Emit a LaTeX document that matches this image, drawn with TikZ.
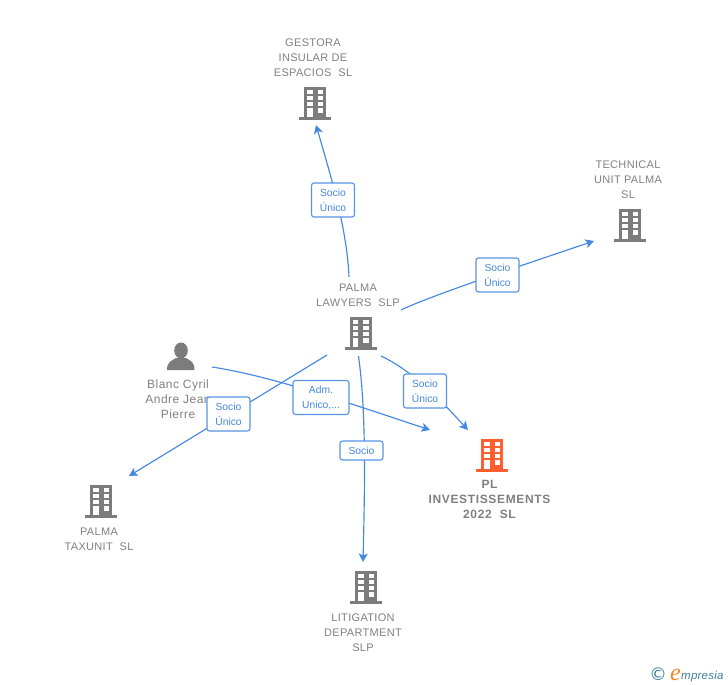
\documentclass[tikz,border=0pt]{standalone}
\usepackage{fontspec}
\setmainfont{Liberation Sans}
\newfontfamily\dvfont{DejaVu Sans}
\newfontfamily\lsfont{Liberation Serif}
\usetikzlibrary{arrows.meta}
\definecolor{lnk}{HTML}{4488E2}
\definecolor{gry}{HTML}{7C7C7C}
\definecolor{txtg}{HTML}{808080}
\definecolor{org}{HTML}{FF5F30}
\definecolor{logoorg}{HTML}{F08A1E}
\definecolor{teal}{HTML}{3F7F95}
\tikzset{
 x=1pt,y=-1pt,
 conn/.style={draw=lnk,line width=1.15pt},
 arr/.style={conn,-{Stealth[length=8.5pt,width=9pt,inset=2pt]}},
 lab/.style={draw=lnk!90!white,line width=1.1pt,fill=white,rounded corners=2.5pt,text=lnk,font=\fontsize{10.3}{15}\selectfont,align=center,inner sep=0pt,minimum width=#1},
 lab/.default=43pt,
 captxt/.style={text=txtg,font=\fontsize{11}{15}\selectfont\addfontfeature{LetterSpace=3},align=center,inner sep=0pt},
 pics/bld/.style={code={
  \fill[#1] (-11.2,-16.5) rectangle (11.2,14);
  \fill[#1] (-16,14) rectangle (16,16.7);
  \foreach \yy in {-13.5,-7.2,-1}{
   \fill[white] (-8,\yy) rectangle (-2.3,\yy+4.4);
   \fill[white] (2.5,\yy) rectangle (8.1,\yy+4.4);}
  \fill[white] (-8,5.2) rectangle (-2.3,14);
  \fill[white] (2.5,5.2) rectangle (8.1,9.8);
 }}
}
\begin{document}
\begin{tikzpicture}
\useasboundingbox (0,0) rectangle (728,685);
% icons
\pic at (315,103) {bld=gry};
\pic at (630,225) {bld=gry};
\pic at (360.7,333) {bld=gry};
\pic at (492,455) {bld=org};
\pic at (101,501) {bld=gry};
\pic at (366,587) {bld=gry};
\fill[gry] (181,350.5) ellipse (6.8 and 8);
\fill[gry] (167,370) .. controls (167,362) and (171,361) .. (176,358) -- (186,358) .. controls (191,361) and (194.5,362) .. (194.5,370) -- cycle;
% captions
\node[captxt] (gestora) at (313,57.3) {GESTORA\\INSULAR DE\\ESPACIOS~ SL};
\node[captxt] (technical) at (628,179.5) {TECHNICAL\\UNIT PALMA\\SL};
\node[captxt] (palma) at (358,295) {PALMA\\LAWYERS~ SLP};
\node[captxt,font=\fontsize{12}{15}\selectfont\addfontfeature{LetterSpace=4}] (blanc) at (178,399) {Blanc Cyril\\Andre Jean\\Pierre};
\node[captxt,font=\fontsize{12}{15}\selectfont\bfseries\addfontfeature{LetterSpace=5.5}] (pl) at (489.5,499.5) {PL\\INVESTISSEMENTS\\2022~ SL};
\node[captxt] (taxunit) at (99,539) {PALMA\\TAXUNIT~ SL};
\node[captxt] (litigation) at (363,632.5) {LITIGATION\\DEPARTMENT\\SLP};
% connector ends
\coordinate (a1) at (349,277); \coordinate (a2) at (316,125);
\coordinate (b1) at (401,310); \coordinate (b2) at (594,241);
\coordinate (c1) at (381,356); \coordinate (c2) at (468,430);
\coordinate (d1) at (327,355); \coordinate (d2) at (129,476);
\coordinate (e1) at (212,367); \coordinate (e2) at (430,430);
\coordinate (f1) at (358.5,356); \coordinate (f2) at (363,562);
% connectors, running behind their labels
\draw[arr] (a1) .. controls (347,230) and (332,180) .. (a2);
\draw[arr] (b1) .. controls (430,296) and (520,266) .. (b2);
\draw[arr] (c1) .. controls (415,372) and (445,405) .. (c2);
\draw[arr] (d1) -- (d2);
\draw[arr] (e1) .. controls (270,376) and (340,400) .. (e2);
\draw[arr] (f1) .. controls (366,410) and (365,480) .. (f2);
% labels
\node[lab,minimum height=34pt] (la) at (333,200) {Socio\\Único};
\node[lab,minimum height=34pt] (lb) at (497.5,275) {Socio\\Único};
\node[lab,minimum height=34pt] (lc) at (425,391) {Socio\\Único};
\node[lab,minimum height=34pt] (ld) at (228.5,414) {Socio\\Único};
\node[lab=56pt,minimum height=34pt] (le) at (321,397.5) {Adm.\\Unico,...};
\node[lab=43pt,minimum height=19pt] (lf) at (361.5,450.5) {Socio};
% logo
\node[inner sep=0pt,text=teal,font=\fontsize{17.5}{15}\dvfont] (copy) at (658,674) {©};
\node[inner sep=0pt,anchor=base west,text=logoorg,font=\fontsize{24}{17}\lsfont\itshape] (elogo) at (670,680) {e};
\node[inner sep=0pt,anchor=base west,text=teal,font=\fontsize{11.5}{11}\selectfont\itshape\addfontfeature{LetterSpace=2}] (mlogo) at (681,679) {mpresia};
\end{tikzpicture}
\end{document}
